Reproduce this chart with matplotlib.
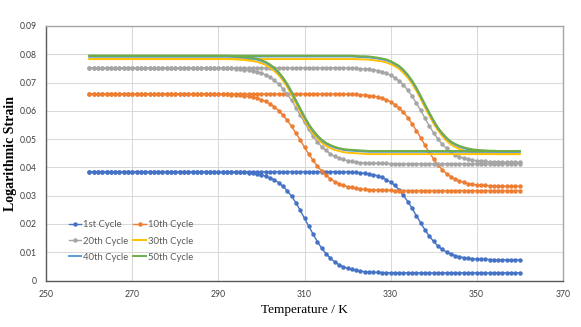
import matplotlib.pyplot as plt
import numpy as np

# temperature axis, one reading per kelvin
temps = np.arange(260, 361)

# 1st cycle, low and high temperature branch
c1_a = [0.0385, 0.0385, 0.0385, 0.0385, 0.0385, 0.0385, 0.0385, 0.0385, 0.0385, 0.0385,
        0.0385, 0.0385, 0.0385, 0.0385, 0.0385, 0.0385, 0.0385, 0.0385, 0.0385, 0.0385,
        0.0385, 0.0385, 0.0385, 0.0385, 0.0385, 0.0385, 0.0385, 0.0385, 0.0385, 0.0385,
        0.0384, 0.0384, 0.0384, 0.0384, 0.0383, 0.0383, 0.0382, 0.0380, 0.0379, 0.0376,
        0.0373, 0.0369, 0.0363, 0.0356, 0.0346, 0.0333, 0.0317, 0.0298, 0.0275, 0.0248,
        0.0220, 0.0192, 0.0164, 0.0137, 0.0114, 0.0095, 0.0079, 0.0066, 0.0056, 0.0049,
        0.0043, 0.0039, 0.0036, 0.0033, 0.0031, 0.0030, 0.0029, 0.0029, 0.0028, 0.0028,
        0.0027, 0.0027, 0.0027, 0.0027, 0.0027, 0.0027, 0.0027, 0.0027, 0.0027, 0.0027,
        0.0027, 0.0027, 0.0027, 0.0027, 0.0027, 0.0027, 0.0027, 0.0027, 0.0027, 0.0027,
        0.0027, 0.0027, 0.0027, 0.0027, 0.0027, 0.0027, 0.0027, 0.0027, 0.0027, 0.0027,
        0.0027]
c1_b = [0.0385, 0.0385, 0.0385, 0.0385, 0.0385, 0.0385, 0.0385, 0.0385, 0.0385, 0.0385,
        0.0385, 0.0385, 0.0385, 0.0385, 0.0385, 0.0385, 0.0385, 0.0385, 0.0385, 0.0385,
        0.0385, 0.0385, 0.0385, 0.0385, 0.0385, 0.0385, 0.0385, 0.0385, 0.0385, 0.0385,
        0.0385, 0.0385, 0.0385, 0.0385, 0.0385, 0.0385, 0.0385, 0.0385, 0.0385, 0.0385,
        0.0385, 0.0385, 0.0385, 0.0385, 0.0385, 0.0385, 0.0385, 0.0385, 0.0385, 0.0385,
        0.0385, 0.0385, 0.0385, 0.0385, 0.0385, 0.0385, 0.0385, 0.0385, 0.0385, 0.0385,
        0.0384, 0.0383, 0.0382, 0.0381, 0.0379, 0.0377, 0.0374, 0.0370, 0.0365, 0.0357,
        0.0348, 0.0336, 0.0320, 0.0301, 0.0279, 0.0255, 0.0229, 0.0204, 0.0179, 0.0157,
        0.0138, 0.0122, 0.0110, 0.0101, 0.0093, 0.0088, 0.0084, 0.0081, 0.0079, 0.0077,
        0.0076, 0.0075, 0.0075, 0.0074, 0.0074, 0.0073, 0.0073, 0.0073, 0.0073, 0.0073,
        0.0073]

# 10th cycle
c10_a = [0.0660, 0.0660, 0.0660, 0.0660, 0.0660, 0.0660, 0.0660, 0.0660, 0.0660, 0.0660,
         0.0660, 0.0660, 0.0660, 0.0660, 0.0660, 0.0660, 0.0660, 0.0660, 0.0660, 0.0660,
         0.0660, 0.0660, 0.0660, 0.0660, 0.0660, 0.0660, 0.0660, 0.0660, 0.0660, 0.0660,
         0.0659, 0.0658, 0.0658, 0.0657, 0.0656, 0.0655, 0.0653, 0.0651, 0.0648, 0.0644,
         0.0639, 0.0633, 0.0624, 0.0614, 0.0601, 0.0584, 0.0566, 0.0545, 0.0521, 0.0497,
         0.0471, 0.0447, 0.0425, 0.0404, 0.0387, 0.0372, 0.0360, 0.0350, 0.0343, 0.0337,
         0.0332, 0.0329, 0.0326, 0.0324, 0.0322, 0.0321, 0.0321, 0.0320, 0.0319, 0.0319,
         0.0319, 0.0318, 0.0318, 0.0318, 0.0318, 0.0318, 0.0318, 0.0318, 0.0318, 0.0318,
         0.0318, 0.0318, 0.0318, 0.0318, 0.0318, 0.0318, 0.0318, 0.0318, 0.0318, 0.0318,
         0.0318, 0.0318, 0.0318, 0.0318, 0.0318, 0.0318, 0.0318, 0.0318, 0.0318, 0.0318,
         0.0318]
c10_b = [0.0660, 0.0660, 0.0660, 0.0660, 0.0660, 0.0660, 0.0660, 0.0660, 0.0660, 0.0660,
         0.0660, 0.0660, 0.0660, 0.0660, 0.0660, 0.0660, 0.0660, 0.0660, 0.0660, 0.0660,
         0.0660, 0.0660, 0.0660, 0.0660, 0.0660, 0.0660, 0.0660, 0.0660, 0.0660, 0.0660,
         0.0660, 0.0660, 0.0660, 0.0660, 0.0660, 0.0660, 0.0660, 0.0660, 0.0660, 0.0660,
         0.0660, 0.0660, 0.0660, 0.0660, 0.0660, 0.0660, 0.0660, 0.0660, 0.0660, 0.0660,
         0.0660, 0.0660, 0.0660, 0.0660, 0.0660, 0.0660, 0.0660, 0.0660, 0.0660, 0.0660,
         0.0659, 0.0658, 0.0658, 0.0657, 0.0656, 0.0654, 0.0652, 0.0649, 0.0645, 0.0639,
         0.0632, 0.0622, 0.0610, 0.0595, 0.0576, 0.0554, 0.0530, 0.0505, 0.0478, 0.0453,
         0.0430, 0.0409, 0.0392, 0.0378, 0.0367, 0.0358, 0.0352, 0.0347, 0.0343, 0.0340,
         0.0338, 0.0337, 0.0336, 0.0335, 0.0335, 0.0334, 0.0334, 0.0333, 0.0333, 0.0333,
         0.0333]

# 20th cycle
c20_a = [0.0752, 0.0752, 0.0752, 0.0752, 0.0752, 0.0752, 0.0752, 0.0752, 0.0752, 0.0752,
         0.0752, 0.0752, 0.0752, 0.0752, 0.0752, 0.0752, 0.0752, 0.0752, 0.0752, 0.0752,
         0.0752, 0.0752, 0.0752, 0.0752, 0.0752, 0.0752, 0.0752, 0.0752, 0.0752, 0.0752,
         0.0751, 0.0751, 0.0750, 0.0750, 0.0749, 0.0748, 0.0746, 0.0744, 0.0742, 0.0738,
         0.0733, 0.0727, 0.0719, 0.0708, 0.0695, 0.0678, 0.0659, 0.0637, 0.0611, 0.0585,
         0.0559, 0.0534, 0.0510, 0.0490, 0.0473, 0.0460, 0.0448, 0.0439, 0.0433, 0.0428,
         0.0424, 0.0421, 0.0419, 0.0417, 0.0416, 0.0415, 0.0415, 0.0414, 0.0414, 0.0414,
         0.0413, 0.0413, 0.0413, 0.0413, 0.0413, 0.0413, 0.0413, 0.0413, 0.0413, 0.0413,
         0.0413, 0.0413, 0.0413, 0.0413, 0.0413, 0.0413, 0.0413, 0.0413, 0.0413, 0.0413,
         0.0413, 0.0413, 0.0413, 0.0413, 0.0413, 0.0413, 0.0413, 0.0413, 0.0413, 0.0413,
         0.0413]
c20_b = [0.0752, 0.0752, 0.0752, 0.0752, 0.0752, 0.0752, 0.0752, 0.0752, 0.0752, 0.0752,
         0.0752, 0.0752, 0.0752, 0.0752, 0.0752, 0.0752, 0.0752, 0.0752, 0.0752, 0.0752,
         0.0752, 0.0752, 0.0752, 0.0752, 0.0752, 0.0752, 0.0752, 0.0752, 0.0752, 0.0752,
         0.0752, 0.0752, 0.0752, 0.0752, 0.0752, 0.0752, 0.0752, 0.0752, 0.0752, 0.0752,
         0.0752, 0.0752, 0.0752, 0.0752, 0.0752, 0.0752, 0.0752, 0.0752, 0.0752, 0.0752,
         0.0752, 0.0752, 0.0752, 0.0752, 0.0752, 0.0752, 0.0752, 0.0752, 0.0752, 0.0752,
         0.0751, 0.0751, 0.0750, 0.0749, 0.0748, 0.0747, 0.0745, 0.0742, 0.0738, 0.0733,
         0.0726, 0.0717, 0.0706, 0.0692, 0.0673, 0.0652, 0.0627, 0.0602, 0.0574, 0.0547,
         0.0522, 0.0501, 0.0482, 0.0467, 0.0454, 0.0445, 0.0438, 0.0433, 0.0429, 0.0426,
         0.0424, 0.0422, 0.0421, 0.0420, 0.0420, 0.0419, 0.0419, 0.0418, 0.0418, 0.0418,
         0.0418]

# 30th cycle
c30_a = [0.0783, 0.0783, 0.0783, 0.0783, 0.0783, 0.0783, 0.0783, 0.0783, 0.0783, 0.0783,
         0.0783, 0.0783, 0.0783, 0.0783, 0.0783, 0.0783, 0.0783, 0.0783, 0.0783, 0.0783,
         0.0783, 0.0783, 0.0783, 0.0783, 0.0783, 0.0783, 0.0783, 0.0783, 0.0783, 0.0783,
         0.0783, 0.0783, 0.0783, 0.0783, 0.0782, 0.0781, 0.0780, 0.0778, 0.0776, 0.0773,
         0.0768, 0.0762, 0.0753, 0.0741, 0.0726, 0.0707, 0.0684, 0.0657, 0.0627, 0.0598,
         0.0569, 0.0542, 0.0520, 0.0502, 0.0487, 0.0476, 0.0468, 0.0462, 0.0458, 0.0454,
         0.0452, 0.0451, 0.0450, 0.0449, 0.0448, 0.0447, 0.0447, 0.0447, 0.0447, 0.0447,
         0.0447, 0.0447, 0.0447, 0.0447, 0.0447, 0.0447, 0.0447, 0.0447, 0.0447, 0.0447,
         0.0447, 0.0447, 0.0447, 0.0447, 0.0447, 0.0447, 0.0447, 0.0447, 0.0447, 0.0447,
         0.0447, 0.0447, 0.0447, 0.0447, 0.0447, 0.0447, 0.0447, 0.0447, 0.0447, 0.0447,
         0.0447]
c30_b = [0.0783, 0.0783, 0.0783, 0.0783, 0.0783, 0.0783, 0.0783, 0.0783, 0.0783, 0.0783,
         0.0783, 0.0783, 0.0783, 0.0783, 0.0783, 0.0783, 0.0783, 0.0783, 0.0783, 0.0783,
         0.0783, 0.0783, 0.0783, 0.0783, 0.0783, 0.0783, 0.0783, 0.0783, 0.0783, 0.0783,
         0.0783, 0.0783, 0.0783, 0.0783, 0.0783, 0.0783, 0.0783, 0.0783, 0.0783, 0.0783,
         0.0783, 0.0783, 0.0783, 0.0783, 0.0783, 0.0783, 0.0783, 0.0783, 0.0783, 0.0783,
         0.0783, 0.0783, 0.0783, 0.0783, 0.0783, 0.0783, 0.0783, 0.0783, 0.0783, 0.0783,
         0.0783, 0.0783, 0.0783, 0.0782, 0.0782, 0.0781, 0.0779, 0.0777, 0.0775, 0.0771,
         0.0765, 0.0758, 0.0748, 0.0734, 0.0717, 0.0696, 0.0671, 0.0642, 0.0612, 0.0583,
         0.0555, 0.0531, 0.0511, 0.0494, 0.0481, 0.0472, 0.0465, 0.0460, 0.0456, 0.0453,
         0.0451, 0.0450, 0.0449, 0.0449, 0.0448, 0.0447, 0.0447, 0.0447, 0.0447, 0.0447,
         0.0447]

# 40th cycle
c40_a = [0.0792, 0.0792, 0.0792, 0.0792, 0.0792, 0.0792, 0.0792, 0.0792, 0.0792, 0.0792,
         0.0792, 0.0792, 0.0792, 0.0792, 0.0792, 0.0792, 0.0792, 0.0792, 0.0792, 0.0792,
         0.0792, 0.0792, 0.0792, 0.0792, 0.0792, 0.0792, 0.0792, 0.0792, 0.0792, 0.0792,
         0.0792, 0.0792, 0.0792, 0.0791, 0.0790, 0.0789, 0.0788, 0.0786, 0.0784, 0.0781,
         0.0776, 0.0770, 0.0761, 0.0749, 0.0734, 0.0715, 0.0692, 0.0665, 0.0635, 0.0606,
         0.0577, 0.0550, 0.0528, 0.0510, 0.0495, 0.0484, 0.0476, 0.0470, 0.0466, 0.0462,
         0.0460, 0.0459, 0.0458, 0.0457, 0.0456, 0.0455, 0.0455, 0.0455, 0.0455, 0.0455,
         0.0455, 0.0455, 0.0455, 0.0455, 0.0455, 0.0455, 0.0455, 0.0455, 0.0455, 0.0455,
         0.0455, 0.0455, 0.0455, 0.0455, 0.0455, 0.0455, 0.0455, 0.0455, 0.0455, 0.0455,
         0.0455, 0.0455, 0.0455, 0.0455, 0.0455, 0.0455, 0.0455, 0.0455, 0.0455, 0.0455,
         0.0455]
c40_b = [0.0792, 0.0792, 0.0792, 0.0792, 0.0792, 0.0792, 0.0792, 0.0792, 0.0792, 0.0792,
         0.0792, 0.0792, 0.0792, 0.0792, 0.0792, 0.0792, 0.0792, 0.0792, 0.0792, 0.0792,
         0.0792, 0.0792, 0.0792, 0.0792, 0.0792, 0.0792, 0.0792, 0.0792, 0.0792, 0.0792,
         0.0792, 0.0792, 0.0792, 0.0792, 0.0792, 0.0792, 0.0792, 0.0792, 0.0792, 0.0792,
         0.0792, 0.0792, 0.0792, 0.0792, 0.0792, 0.0792, 0.0792, 0.0792, 0.0792, 0.0792,
         0.0792, 0.0792, 0.0792, 0.0792, 0.0792, 0.0792, 0.0792, 0.0792, 0.0792, 0.0792,
         0.0792, 0.0792, 0.0791, 0.0790, 0.0790, 0.0789, 0.0787, 0.0785, 0.0782, 0.0779,
         0.0773, 0.0765, 0.0756, 0.0742, 0.0725, 0.0704, 0.0679, 0.0650, 0.0620, 0.0591,
         0.0563, 0.0538, 0.0519, 0.0502, 0.0489, 0.0480, 0.0473, 0.0468, 0.0464, 0.0461,
         0.0459, 0.0458, 0.0457, 0.0457, 0.0456, 0.0455, 0.0455, 0.0455, 0.0455, 0.0455,
         0.0455]

# 50th cycle
c50_a = [0.0795, 0.0795, 0.0795, 0.0795, 0.0795, 0.0795, 0.0795, 0.0795, 0.0795, 0.0795,
         0.0795, 0.0795, 0.0795, 0.0795, 0.0795, 0.0795, 0.0795, 0.0795, 0.0795, 0.0795,
         0.0795, 0.0795, 0.0795, 0.0795, 0.0795, 0.0795, 0.0795, 0.0795, 0.0795, 0.0795,
         0.0795, 0.0795, 0.0795, 0.0794, 0.0793, 0.0792, 0.0791, 0.0789, 0.0787, 0.0784,
         0.0779, 0.0773, 0.0764, 0.0752, 0.0737, 0.0718, 0.0695, 0.0668, 0.0638, 0.0609,
         0.0580, 0.0553, 0.0531, 0.0513, 0.0498, 0.0487, 0.0479, 0.0473, 0.0468, 0.0465,
         0.0463, 0.0462, 0.0461, 0.0460, 0.0459, 0.0458, 0.0458, 0.0458, 0.0458, 0.0458,
         0.0458, 0.0458, 0.0458, 0.0458, 0.0458, 0.0458, 0.0458, 0.0458, 0.0458, 0.0458,
         0.0458, 0.0458, 0.0458, 0.0458, 0.0458, 0.0458, 0.0458, 0.0458, 0.0458, 0.0458,
         0.0458, 0.0458, 0.0458, 0.0458, 0.0458, 0.0458, 0.0458, 0.0458, 0.0458, 0.0458,
         0.0458]
c50_b = [0.0795, 0.0795, 0.0795, 0.0795, 0.0795, 0.0795, 0.0795, 0.0795, 0.0795, 0.0795,
         0.0795, 0.0795, 0.0795, 0.0795, 0.0795, 0.0795, 0.0795, 0.0795, 0.0795, 0.0795,
         0.0795, 0.0795, 0.0795, 0.0795, 0.0795, 0.0795, 0.0795, 0.0795, 0.0795, 0.0795,
         0.0795, 0.0795, 0.0795, 0.0795, 0.0795, 0.0795, 0.0795, 0.0795, 0.0795, 0.0795,
         0.0795, 0.0795, 0.0795, 0.0795, 0.0795, 0.0795, 0.0795, 0.0795, 0.0795, 0.0795,
         0.0795, 0.0795, 0.0795, 0.0795, 0.0795, 0.0795, 0.0795, 0.0795, 0.0795, 0.0795,
         0.0795, 0.0795, 0.0794, 0.0793, 0.0793, 0.0792, 0.0790, 0.0788, 0.0785, 0.0782,
         0.0776, 0.0768, 0.0759, 0.0745, 0.0728, 0.0707, 0.0682, 0.0653, 0.0623, 0.0594,
         0.0566, 0.0541, 0.0522, 0.0505, 0.0492, 0.0483, 0.0476, 0.0471, 0.0467, 0.0464,
         0.0462, 0.0461, 0.0460, 0.0459, 0.0459, 0.0458, 0.0458, 0.0458, 0.0458, 0.0458,
         0.0458]

labels = ["1st Cycle", "10th Cycle", "20th Cycle", "30th Cycle", "40th Cycle", "50th Cycle"]
colors = ["#4472C4", "#ED7D31", "#A5A5A5", "#FFC000", "#5B9BD5", "#70AD47"]
branches = [(c1_a, c1_b), (c10_a, c10_b), (c20_a, c20_b),
            (c30_a, c30_b), (c40_a, c40_b), (c50_a, c50_b)]
has_marker = [True, True, True, False, False, False]

fig, ax = plt.subplots(figsize=(5.81, 3.27), dpi=100)
fig.subplots_adjust(left=0.0797, right=0.9685, bottom=0.1422, top=0.9205)

handles = []
for i in range(6):
    if has_marker[i]:
        kw = dict(marker='o', markersize=3.2, linewidth=1.0, markeredgewidth=0)
    else:
        kw = dict(linewidth=1.4)
    for j, ys in enumerate(branches[i]):
        line, = ax.plot(temps, ys, color=colors[i], label=labels[i] if j == 0 else None, **kw)
        if j == 0:
            handles.append(line)

ax.set_xlim(250, 370)
ax.set_ylim(0, 0.09)
ax.set_xticks(np.arange(250, 371, 20))
ax.set_yticks(np.arange(0, 0.091, 0.01))
ax.set_yticklabels(["0", "0.01", "0.02", "0.03", "0.04", "0.05", "0.06", "0.07", "0.08", "0.09"])
ax.grid(True, color='#D9D9D9', linewidth=0.75)
ax.set_axisbelow(True)
ax.tick_params(length=0, labelsize=6.2, labelcolor='#404040', pad=7)
for t in ax.get_xticklabels() + ax.get_yticklabels():
    t.set_family('Lato')
for s in ['left', 'bottom']:
    ax.spines[s].set_color('#595959')
    ax.spines[s].set_linewidth(1.0)
for s in ['top', 'right']:
    ax.spines[s].set_color('#A6A6A6')
    ax.spines[s].set_linewidth(1.0)

ax.set_ylabel("Logarithmic Strain", family='Liberation Serif', fontweight='bold', fontsize=10, labelpad=1.5)
ax.set_xlabel("Temperature / K", family='Liberation Serif', fontsize=9.5, labelpad=3.5)

order = [0, 2, 4, 1, 3, 5]
fig.legend([handles[k] for k in order], [labels[k] for k in order], ncol=2, loc='upper left',
           bbox_to_anchor=(0.110, 0.3406), frameon=False, borderpad=0,
           prop={'family': 'Lato', 'size': 6.8}, labelcolor='#595959',
           handlelength=1.35, handletextpad=0.15, columnspacing=0.56, labelspacing=0.76)

plt.savefig("out.png", dpi=100)
